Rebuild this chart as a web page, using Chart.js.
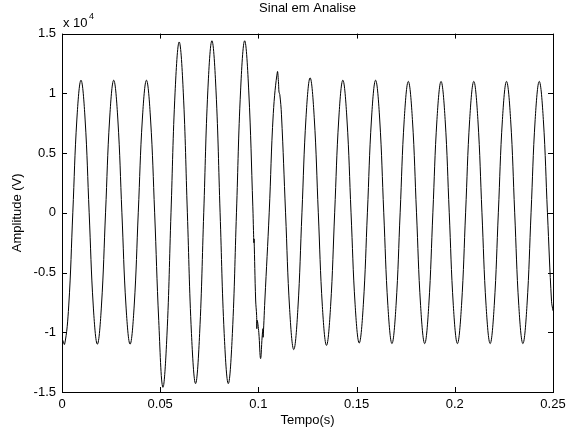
<!DOCTYPE html>
<html>
<head>
  <title>Sinal em Analise</title>
  <meta charset="utf-8">
  <script src="https://cdn.jsdelivr.net/npm/chart.js"></script>
  <style>
    html, body { margin: 0; padding: 0; background: #fff; }
  </style>
</head>
<body>
  <canvas id="sinalChart" width="575" height="428"></canvas>

  <script>
    // tempo em segundos, amplitude em unidades de 10^4 V
    const tempo = [
      0, 0.00134, 0.00342, 0.00550, 0.00758,
      0.00967, 0.01175, 0.01383, 0.01592, 0.01800, 0.02008, 0.02217, 0.02425,
      0.02633, 0.02842, 0.03050, 0.03258, 0.03467, 0.03675, 0.03883, 0.04092,
      0.04300, 0.04508, 0.04717, 0.04925, 0.05133, 0.05342, 0.05550, 0.05758,
      0.05967, 0.06175, 0.06383, 0.06592, 0.06800, 0.07008, 0.07217, 0.07425,
      0.07633, 0.07842, 0.08050, 0.08258, 0.08467, 0.08675, 0.08883, 0.09092,
      0.09300, 0.09508, 0.09717, 0.0975, 0.0977, 0.0978, 0.0986, 0.0991, 0.0992, 0.0994, 0.1002, 0.1011, 0.1019, 0.1023, 0.1024, 0.1033, 0.10550, 0.10758,
      0.10967, 0.1102, 0.1105, 0.1109, 0.11175, 0.11383, 0.11592, 0.11800, 0.12008, 0.12217, 0.12425,
      0.12633, 0.12842, 0.13050, 0.13258, 0.13467, 0.13675, 0.13883, 0.14092,
      0.14300, 0.14508, 0.14717, 0.14925, 0.15133, 0.15342, 0.15550, 0.15758,
      0.15967, 0.16175, 0.16383, 0.16592, 0.16800, 0.17008, 0.17217, 0.17425,
      0.17633, 0.17842, 0.18050, 0.18258, 0.18467, 0.18675, 0.18883, 0.19092,
      0.19300, 0.19508, 0.19717, 0.19925, 0.20133, 0.20342, 0.20550, 0.20758,
      0.20967, 0.21175, 0.21383, 0.21592, 0.21800, 0.22008, 0.22217, 0.22425,
      0.22633, 0.22842, 0.23050, 0.23258, 0.23467, 0.23675, 0.23883, 0.24092,
      0.24300, 0.24508, 0.24717, 0.24925, 0.25
    ];
    const amplitude = [
      -1.05, -1.10, -0.78, 0, 0.785,
      1.11, 0.785, 0, -0.78, -1.10, -0.78, 0, 0.785,
      1.11, 0.785, 0, -0.78, -1.10, -0.78, 0, 0.785,
      1.11, 0.785, 0, -0.90, -1.46, -1.03, 0, 1.01,
      1.43, 1.01, 0, -1.01, -1.43, -1.01, 0, 1.02,
      1.44, 1.02, 0, -1.01, -1.43, -1.01, 0, 1.02,
      1.44, 1.02, 0.05, -0.15, -0.25, -0.22, -0.73, -0.86, -0.97, -0.90, -1.00, -1.22, -1.04, -0.97, -1.04, -0.73, 0, 0.83,
      1.18, 1.10, 1.01, 0.99, 0.82, 0, -0.81, -1.145, -0.81, 0, 0.80,
      1.13, 0.80, 0, -0.785, -1.11, -0.785, 0, 0.785,
      1.11, 0.785, 0, -0.77, -1.09, -0.77, 0, 0.785,
      1.11, 0.785, 0, -0.775, -1.095, -0.775, 0, 0.78,
      1.10, 0.78, 0, -0.775, -1.095, -0.775, 0, 0.78,
      1.10, 0.78, 0, -0.775, -1.095, -0.775, 0, 0.78,
      1.10, 0.78, 0, -0.775, -1.095, -0.775, 0, 0.78,
      1.10, 0.78, 0, -0.775, -1.095, -0.775, 0, 0.78,
      1.10, 0.78, 0, -0.74, -0.82
    ];
    const xTicks = [0, 0.05, 0.1, 0.15, 0.2, 0.25];
    const yTicks = [-1.5, -1, -0.5, 0, 0.5, 1, 1.5];

    const fonte = "'Liberation Sans', Arial, Helvetica, sans-serif";
    const numero = v => Number(Number(v).toFixed(4)).toString();

    // caixa estilo matlab com marcas para dentro + "x 10^4"
    const caixaPlugin = {
      id: 'caixa',
      afterDraw(chart) {
        const { ctx, chartArea: a, scales } = chart;
        ctx.save();
        ctx.strokeStyle = '#000';
        ctx.lineWidth = 1;
        ctx.strokeRect(Math.round(a.left) + 0.5, Math.round(a.top) + 0.5,
          Math.round(a.right - a.left), Math.round(a.bottom - a.top));
        ctx.beginPath();
        xTicks.forEach(v => {
          const px = Math.round(scales.x.getPixelForValue(v)) + 0.5;
          ctx.moveTo(px, a.bottom); ctx.lineTo(px, a.bottom - 5);
          ctx.moveTo(px, a.top); ctx.lineTo(px, a.top + 5);
        });
        yTicks.forEach(v => {
          const py = Math.round(scales.y.getPixelForValue(v)) + 0.5;
          ctx.moveTo(a.left, py); ctx.lineTo(a.left + 5, py);
          ctx.moveTo(a.right, py); ctx.lineTo(a.right - 5, py);
        });
        ctx.stroke();
        ctx.fillStyle = '#000';
        ctx.textBaseline = 'alphabetic';
        ctx.font = '13px ' + fonte;
        ctx.fillText('x 10', a.left + 1, a.top - 7);
        ctx.font = '9px ' + fonte;
        ctx.fillText('4', a.left + 27, a.top - 15);
        ctx.restore();
      }
    };

    const ctx = document.getElementById('sinalChart').getContext('2d');
    new Chart(ctx, {
      type: 'line',
      data: {
        datasets: [{
          label: 'Sinal',
          data: tempo.map((t, i) => ({ x: t, y: amplitude[i] })),
          borderColor: '#000',
          borderWidth: 1,
          pointRadius: 0,
          fill: false,
          tension: 0.4
        }]
      },
      options: {
        responsive: false,
        animation: false,
        devicePixelRatio: 1,
        layout: { padding: { left: 0, right: 22, top: 0, bottom: 0 } },
        plugins: {
          legend: { display: false },
          tooltip: { enabled: false },
          title: {
            display: true,
            fullSize: false,
            text: 'Sinal em Analise',
            color: '#000',
            font: { family: fonte, size: 13, weight: 'normal' },
            padding: { top: 1, bottom: 17 }
          }
        },
        scales: {
          x: {
            type: 'linear',
            min: 0,
            max: 0.25,
            afterFit: s => { s.height = 36; },
            grid: { display: false, drawTicks: false },
            border: { display: false },
            ticks: {
              stepSize: 0.05,
              color: '#000',
              padding: 5,
              maxRotation: 0,
              font: { family: fonte, size: 13 },
              callback: numero
            },
            title: {
              display: true,
              text: 'Tempo(s)',
              color: '#000',
              font: { family: fonte, size: 13 },
              padding: { top: 0, bottom: 0 }
            }
          },
          y: {
            min: -1.5,
            max: 1.5,
            afterFit: s => { s.width = 62; },
            grid: { display: false, drawTicks: false },
            border: { display: false },
            ticks: {
              stepSize: 0.5,
              color: '#000',
              padding: 6,
              font: { family: fonte, size: 13 },
              callback: numero
            },
            title: {
              display: true,
              text: 'Amplitude (V)',
              color: '#000',
              font: { family: fonte, size: 13 },
              padding: { top: 10, bottom: 0 }
            }
          }
        }
      },
      plugins: [caixaPlugin]
    });
  </script>
</body>
</html>
